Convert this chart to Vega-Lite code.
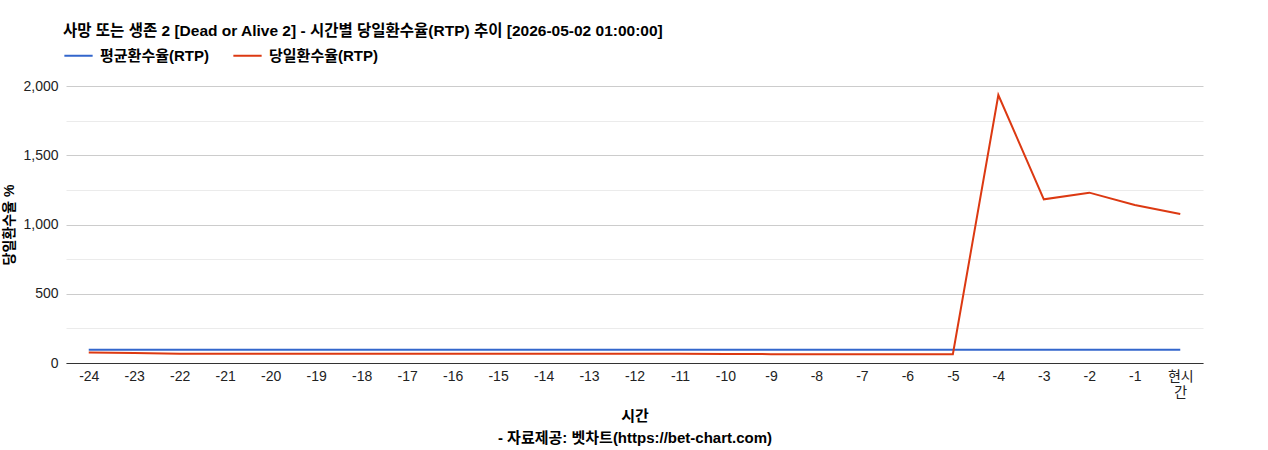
{
  "$schema": "https://vega.github.io/schema/vega-lite/v6.json",
  "autosize": {"type": "none"},
  "width": 1137,
  "height": 277,
  "padding": {"left": 66, "top": 86, "right": 65, "bottom": 87},
  "background": "white",
  "config": {
    "font": "Liberation Sans, Noto Sans CJK KR",
    "view": {"stroke": null}
  },
  "title": {
    "text": "사망 또는 생존 2 [Dead or Alive 2] - 시간별 당일환수율(RTP) 추이 [2026-05-02 01:00:00]",
    "anchor": "start",
    "frame": "group",
    "fontSize": 15.5,
    "fontWeight": "bold",
    "color": "#000",
    "dx": -3,
    "offset": 1
  },
  "data": {
    "values": [
      {"hour": "-24", "series": "평균환수율(RTP)", "rtp": 96},
      {"hour": "-23", "series": "평균환수율(RTP)", "rtp": 96},
      {"hour": "-22", "series": "평균환수율(RTP)", "rtp": 96},
      {"hour": "-21", "series": "평균환수율(RTP)", "rtp": 96},
      {"hour": "-20", "series": "평균환수율(RTP)", "rtp": 96},
      {"hour": "-19", "series": "평균환수율(RTP)", "rtp": 96},
      {"hour": "-18", "series": "평균환수율(RTP)", "rtp": 96},
      {"hour": "-17", "series": "평균환수율(RTP)", "rtp": 96},
      {"hour": "-16", "series": "평균환수율(RTP)", "rtp": 96},
      {"hour": "-15", "series": "평균환수율(RTP)", "rtp": 96},
      {"hour": "-14", "series": "평균환수율(RTP)", "rtp": 96},
      {"hour": "-13", "series": "평균환수율(RTP)", "rtp": 96},
      {"hour": "-12", "series": "평균환수율(RTP)", "rtp": 96},
      {"hour": "-11", "series": "평균환수율(RTP)", "rtp": 96},
      {"hour": "-10", "series": "평균환수율(RTP)", "rtp": 96},
      {"hour": "-9", "series": "평균환수율(RTP)", "rtp": 96},
      {"hour": "-8", "series": "평균환수율(RTP)", "rtp": 96},
      {"hour": "-7", "series": "평균환수율(RTP)", "rtp": 96},
      {"hour": "-6", "series": "평균환수율(RTP)", "rtp": 96},
      {"hour": "-5", "series": "평균환수율(RTP)", "rtp": 96},
      {"hour": "-4", "series": "평균환수율(RTP)", "rtp": 96},
      {"hour": "-3", "series": "평균환수율(RTP)", "rtp": 96},
      {"hour": "-2", "series": "평균환수율(RTP)", "rtp": 96},
      {"hour": "-1", "series": "평균환수율(RTP)", "rtp": 96},
      {"hour": "현시간", "series": "평균환수율(RTP)", "rtp": 96},
      {"hour": "-24", "series": "당일환수율(RTP)", "rtp": 75},
      {"hour": "-23", "series": "당일환수율(RTP)", "rtp": 72},
      {"hour": "-22", "series": "당일환수율(RTP)", "rtp": 67},
      {"hour": "-21", "series": "당일환수율(RTP)", "rtp": 66},
      {"hour": "-20", "series": "당일환수율(RTP)", "rtp": 66},
      {"hour": "-19", "series": "당일환수율(RTP)", "rtp": 66},
      {"hour": "-18", "series": "당일환수율(RTP)", "rtp": 66},
      {"hour": "-17", "series": "당일환수율(RTP)", "rtp": 66},
      {"hour": "-16", "series": "당일환수율(RTP)", "rtp": 66},
      {"hour": "-15", "series": "당일환수율(RTP)", "rtp": 66},
      {"hour": "-14", "series": "당일환수율(RTP)", "rtp": 66},
      {"hour": "-13", "series": "당일환수율(RTP)", "rtp": 66},
      {"hour": "-12", "series": "당일환수율(RTP)", "rtp": 66},
      {"hour": "-11", "series": "당일환수율(RTP)", "rtp": 66},
      {"hour": "-10", "series": "당일환수율(RTP)", "rtp": 65},
      {"hour": "-9", "series": "당일환수율(RTP)", "rtp": 64},
      {"hour": "-8", "series": "당일환수율(RTP)", "rtp": 64},
      {"hour": "-7", "series": "당일환수율(RTP)", "rtp": 63},
      {"hour": "-6", "series": "당일환수율(RTP)", "rtp": 63},
      {"hour": "-5", "series": "당일환수율(RTP)", "rtp": 63},
      {"hour": "-4", "series": "당일환수율(RTP)", "rtp": 1935},
      {"hour": "-3", "series": "당일환수율(RTP)", "rtp": 1182},
      {"hour": "-2", "series": "당일환수율(RTP)", "rtp": 1230},
      {"hour": "-1", "series": "당일환수율(RTP)", "rtp": 1141},
      {"hour": "현시간", "series": "당일환수율(RTP)", "rtp": 1076}
    ]
  },
  "mark": {"type": "line", "strokeWidth": 2},
  "encoding": {
    "x": {
      "field": "hour",
      "type": "ordinal",
      "sort": null,
      "scale": {"type": "point", "padding": 0.5},
      "axis": {
        "labelAngle": 0,
        "labelFontSize": 14,
        "labelColor": "#222",
        "labelPadding": 6,
        "labelExpr": "datum.label == '현시간' ? ['현시', '간'] : datum.label",
        "ticks": false,
        "domainColor": "#333",
        "domainWidth": 1,
        "grid": false,
        "title": ["시간", "- 자료제공: 벳차트(https://bet-chart.com)"],
        "titleFontSize": 15,
        "titleFontWeight": "bold",
        "titleColor": "#000",
        "titleLineHeight": 22,
        "titlePadding": 9
      }
    },
    "y": {
      "field": "rtp",
      "type": "quantitative",
      "scale": {"domain": [0, 2000], "nice": false},
      "axis": {
        "values": [0, 250, 500, 750, 1000, 1250, 1500, 1750, 2000],
        "labelExpr": "datum.value % 500 == 0 ? format(datum.value, ',') : ''",
        "labelFontSize": 14,
        "labelColor": "#222",
        "labelPadding": 8,
        "ticks": false,
        "domain": false,
        "gridColor": {
          "condition": {"test": "datum.value % 500 == 0", "value": "#cccccc"},
          "value": "#ebebeb"
        },
        "title": "당일환수율 %",
        "titleFontSize": 14,
        "titleFontWeight": "bold",
        "titleColor": "#000",
        "titlePadding": 6
      }
    },
    "color": {
      "field": "series",
      "type": "nominal",
      "scale": {
        "domain": ["평균환수율(RTP)", "당일환수율(RTP)"],
        "range": ["#3366cc", "#dc3912"]
      },
      "legend": {
        "title": null,
        "orient": "none",
        "direction": "horizontal",
        "legendX": -3,
        "legendY": -46,
        "symbolType": "stroke",
        "symbolStrokeWidth": 2,
        "symbolSize": 800,
        "labelFontSize": 15,
        "labelFontWeight": "bold",
        "labelColor": "#000",
        "labelOffset": 6,
        "columnPadding": 20
      }
    }
  }
}
